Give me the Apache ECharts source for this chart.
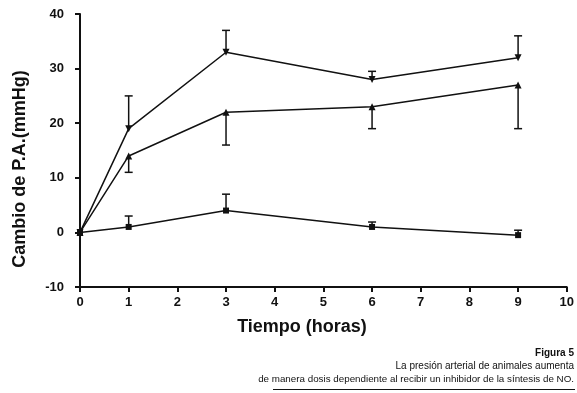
<!DOCTYPE html>
<html><head><meta charset="utf-8">
<script src="https://cdn.jsdelivr.net/npm/echarts@6/dist/echarts.min.js"></script>
<style>html,body{margin:0;padding:0;background:#fff}#c{width:577px;height:393px}</style>
</head><body><div id="c"></div>
<script>
const hours = [0, 1, 3, 6, 9];
const highDose = [0, 19, 33, 28, 32];
const highDoseErrUpper = [0, 25, 37, 29.5, 36];
const midDose = [0, 14, 22, 23, 27];
const midDoseErrLower = [0, 11, 16, 19, 19];
const control = [0, 1, 4, 1, -0.5];
const controlErrUpper = [0, 3, 7, 1.9, 0.4];
const xTicks = [0,1,2,3,4,5,6,7,8,9,10];
const yTicks = [-10,0,10,20,30,40];

const font = 'Liberation Sans, Arial, sans-serif';
function pairs(vals){ return hours.map((h,i)=>[h, vals[i]]); }
function errData(vals, ends){ return hours.map((h,i)=>[h, vals[i], ends[i]]).filter((d,i)=>i>0); }
function errSeries(data){
  return {
    type:'custom', data:data, z:1,
    renderItem:function(params, api){
      const p1 = api.coord([api.value(0), api.value(1)]);
      const p2 = api.coord([api.value(0), api.value(2)]);
      const w = 4;
      return {type:'group', children:[
        {type:'line', shape:{x1:p1[0],y1:p1[1],x2:p2[0],y2:p2[1]}, style:{stroke:'#111',lineWidth:1.5}},
        {type:'line', shape:{x1:p2[0]-w,y1:p2[1],x2:p2[0]+w,y2:p2[1]}, style:{stroke:'#111',lineWidth:1.5}}
      ]};
    }
  };
}
const lineBase = {type:'line', lineStyle:{color:'#111', width:1.5}, itemStyle:{color:'#111'}, z:2, animation:false};
const chart = echarts.init(document.getElementById('c'));
chart.setOption({
  animation:false,
  backgroundColor:'#fff',
  grid:{left:80, right:10, top:14, bottom:106},
  xAxis:{type:'value', min:0, max:10, interval:1,
    axisLine:{onZero:false, lineStyle:{color:'#111', width:2}},
    axisTick:{show:true, length:5, lineStyle:{color:'#111', width:2}},
    axisLabel:{color:'#111', fontFamily:font, fontWeight:'bold', fontSize:13, margin:9,
      formatter:v=>xTicks.includes(v)?String(v):''},
    splitLine:{show:false}
  },
  yAxis:{type:'value', min:-10, max:40, interval:10,
    axisLine:{show:true, onZero:false, lineStyle:{color:'#111', width:2}},
    axisTick:{show:true, length:5, lineStyle:{color:'#111', width:2}},
    axisLabel:{color:'#111', fontFamily:font, fontWeight:'bold', fontSize:13, margin:16,
      formatter:v=>yTicks.includes(v)?String(v):''},
    splitLine:{show:false}
  },
  series:[
    errSeries(errData(highDose, highDoseErrUpper)),
    errSeries(errData(midDose, midDoseErrLower)),
    errSeries(errData(control, controlErrUpper)),
    Object.assign({}, lineBase, {data:pairs(highDose), symbol:'triangle', symbolRotate:180, symbolSize:7}),
    Object.assign({}, lineBase, {data:pairs(midDose), symbol:'triangle', symbolSize:7}),
    Object.assign({}, lineBase, {data:pairs(control), symbol:'rect', symbolSize:6})
  ],
  graphic:[
    {type:'text', x:302, y:327, style:{text:'Tiempo (horas)', font:'bold 18px '+font, fill:'#111', align:'center', verticalAlign:'middle'}},
    {type:'text', x:20, y:169, rotation:Math.PI/2, style:{text:'Cambio de P.A.(mmHg)', font:'bold 18px '+font, fill:'#111', align:'center', verticalAlign:'middle'}},
    {type:'text', x:574, y:353, style:{text:'Figura 5', font:'bold 10px '+font, fill:'#111', align:'right', verticalAlign:'middle'}},
    {type:'text', x:574, y:366, style:{text:'La presión arterial de animales aumenta', font:'10px '+font, fill:'#111', align:'right', verticalAlign:'middle'}},
    {type:'text', x:574, y:379.5, style:{text:'de manera dosis dependiente al recibir un inhibidor de la síntesis de NO.', font:'9.8px '+font, fill:'#111', align:'right', verticalAlign:'middle'}},
    {type:'line', shape:{x1:273, y1:389.5, x2:575, y2:389.5}, style:{stroke:'#111', lineWidth:1}}
  ]
});
</script></body></html>
